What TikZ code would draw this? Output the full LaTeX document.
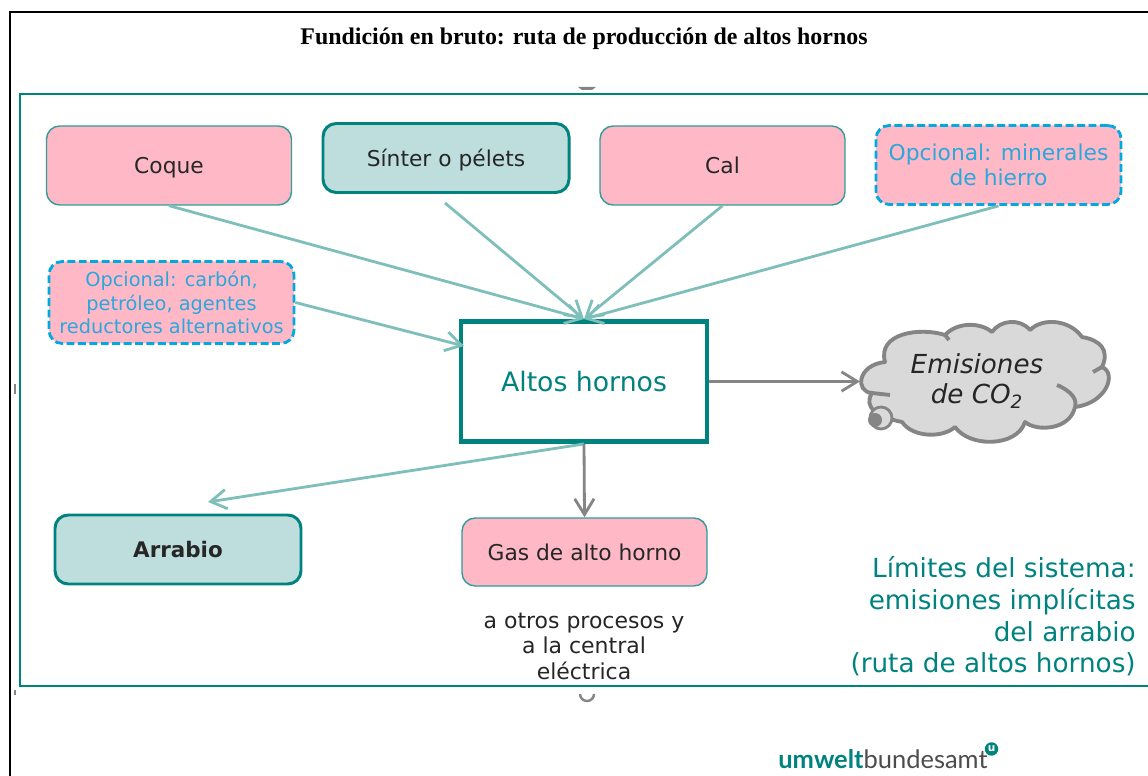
\documentclass[tikz,border=0pt]{standalone}
\usepackage{fontspec}
\setmainfont{DejaVu Sans}
\newfontfamily\titlefont{Liberation Serif}
\newfontfamily\logofont{Lato}
\usetikzlibrary{arrows.meta}
\definecolor{uba}{HTML}{00827F}
\definecolor{ubapale}{HTML}{7FBFBB}
\definecolor{ubafill}{HTML}{BDDEDC}
\definecolor{rosa}{HTML}{FFB9C6}
\definecolor{opcion}{HTML}{00A9E0}
\definecolor{opciontxt}{HTML}{2AA7DC}
\definecolor{gris}{HTML}{858585}
\tikzset{
  caja/.style={rounded corners=7.5pt, inner sep=0, align=center, font=\fontsize{12.4}{14.5}\selectfont},
  unalinea/.style={text height=12pt, text depth=2.5pt, text=black!85},
  rosabox/.style={caja, draw=uba!80, fill=rosa, line width=0.8pt, minimum width=245*0.02cm},
  tealbox/.style={caja, draw=uba, fill=ubafill, line width=1.7pt, minimum width=246*0.02cm},
  optbox/.style={caja, draw=opcion, fill=rosa, text=opciontxt, line width=1.6pt, dash pattern=on 4.5pt off 2pt, minimum width=245*0.02cm},
  flecha/.style={ubapale, line width=1.6pt, -{Straight Barb[length=9pt,width=11pt]}},
  flechagris/.style={gris, line width=1.6pt, -{Straight Barb[length=9pt,width=11pt]}}
}
\begin{document}
\begin{tikzpicture}[x=0.02cm,y=-0.02cm]
\useasboundingbox (0,0) rectangle (1148,776);
\draw[black, line width=1.6pt] (1148,12) -- (10,12) -- (10,776);
\draw[uba, line width=1.6pt] (1148,94) -- (20,94) -- (20,686) -- (1148,686);

\node (titulo) at (584,39) {\titlefont\bfseries\fontsize{13.6}{16}\selectfont Fundición en bruto: ruta de producción de altos hornos};

\node[rosabox, unalinea, minimum height=79*0.02cm] (coque) at (169,165.5) {Coque};
\node[tealbox, unalinea, minimum height=69*0.02cm] (sinter) at (446,158) {Sínter o pélets};
\node[rosabox, unalinea, minimum height=79*0.02cm] (cal) at (722.5,165.5) {Cal};
\node[optbox, minimum height=79*0.02cm] (minerales) at (998.5,165) {Opcional: minerales\\de hierro};
\node[optbox, minimum height=82*0.02cm, font=\fontsize{11}{13.3}\selectfont] (carbon) at (171.5,302.5) {Opcional: carbón,\\petróleo, agentes\\reductores alternativos};
\node[draw=uba, fill=white, line width=2.8pt, inner sep=0, minimum width=246*0.02cm, minimum height=120*0.02cm, text=uba, font=\fontsize{15.2}{17}\selectfont] (altos) at (584,381.5) {Altos hornos};
\node[tealbox, unalinea, minimum height=69*0.02cm, font=\fontsize{12.2}{14.5}\selectfont\bfseries] (arrabio) at (178,549.5) {Arrabio};
\node[rosabox, unalinea, minimum height=68*0.02cm] (gas) at (584.5,552) {Gas de alto horno};

\coordinate (sinterout) at (445,203);
\coordinate (altosin) at (464,346);
\coordinate (arrabiotip) at (208,502);
\coordinate (nubein) at (860,381.5);

\draw[gris, line width=2.2pt, fill=black!15, line join=round] (885,362)
  .. controls (857,365) and (855,392) .. (872,393)
  .. controls (863,407) and (877,417) .. (902,422)
  .. controls (913,438) and (943,438) .. (955,427)
  .. controls (970,448) and (1017,447) .. (1025,422)
  .. controls (1037,432) and (1070,430) .. (1075,407)
  .. controls (1107,403) and (1117,373) .. (1102,367)
  .. controls (1110,350) and (1100,340) .. (1082,337)
  .. controls (1070,320) and (1043,317) .. (1030,330)
  .. controls (1020,318) and (1000,320) .. (992,332)
  .. controls (980,322) and (957,322) .. (945,335)
  .. controls (920,327) and (877,333) .. (885,362) -- cycle;
\draw[gris, line width=2.2pt] (872,393) -- (890,395);
\draw[gris, line width=2.2pt] (945,335) -- (949,340);
\draw[gris, line width=2.2pt] (1102,367) -- (1093,372);
\draw[gris, line width=2.2pt] (1057,385) .. controls (1073,392) and (1077,400) .. (1075,407);
\draw[gris, line width=1.6pt, fill=black!15] (881,418) circle (11);
\fill[gris] (875,420) circle (7);
\node[font=\fontsize{14.9}{17.6}\selectfont\itshape, align=center, text=black!85] (emisiones) at (977,381) {Emisiones\\de CO\textsubscript{2}};

\draw[flecha] (coque.south) -- (altos.north);
\draw[flecha] (sinterout) -- (altos.north);
\draw[flecha] (cal.south) -- (altos.north);
\draw[flecha] (minerales.south) -- (altos.north);
\draw[flecha] (carbon.east) -- (altosin);
\draw[flecha] (altos.south) -- (arrabiotip);
\draw[flechagris] (altos.south) -- (gas.north);
\draw[flechagris] (altos.east) -- (nubein);

\node[align=center, font=\fontsize{12.5}{14.5}\selectfont, text=black!85] (destino) at (584,646) {a otros procesos y\\a la central\\eléctrica};
\node[align=right, anchor=east, inner sep=0, text=uba, font=\fontsize{14.95}{18}\selectfont] (limites) at (1136,616.5) {Límites del sistema:\\emisiones implícitas\\del arrabio\\(ruta de altos hornos)};

\node[anchor=base west, inner sep=0, font=\logofont\fontsize{14.5}{17}\selectfont] (logo) at (778,768) {\textcolor{uba}{\bfseries umwelt}\textcolor{black!70}{bundesamt}};
\node[circle, draw=uba, fill=uba, line width=0.8pt, inner sep=0, minimum size=12*0.02cm, font=\fontsize{6}{6}\bfseries\selectfont, text=white] (logou) at (991.5,749) {u};

\fill[gris] (578,87) -- (596,87) -- (592,90) -- (582,90) -- cycle;
\draw[gris, line width=1.4pt] (580,694) arc (180:0:7);
\fill[gris] (14,384) rectangle (16,394);
\fill[gris] (14,690) rectangle (16,695);
\end{tikzpicture}
\end{document}
